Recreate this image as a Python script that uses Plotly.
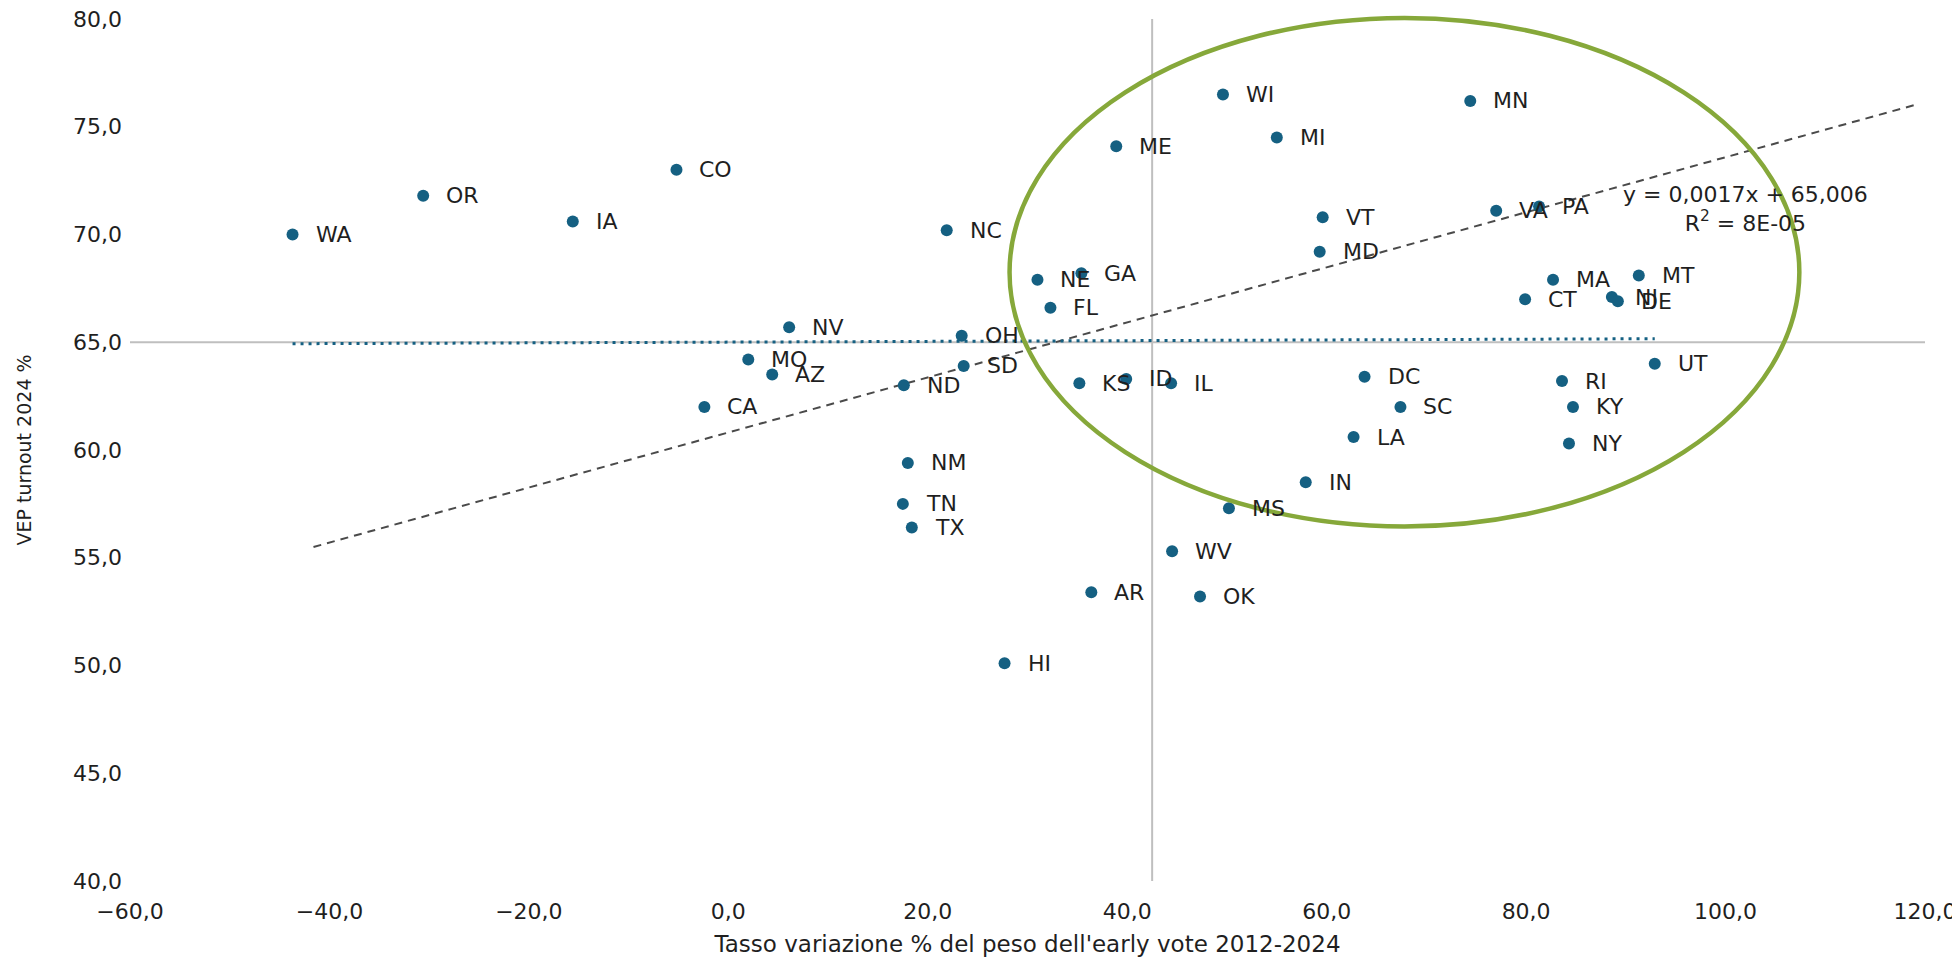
import plotly.graph_objects as go

# ---- data ----
states = ["WA", "OR", "IA", "CO", "NC", "WI", "ME", "MI", "VT", "MD",
          "NE", "GA", "FL", "NV", "OH", "MO", "AZ", "SD", "ND", "KS",
          "ID", "IL", "CA", "NM", "DC", "LA", "MN", "VA", "PA", "MA",
          "MT", "CT", "NJ", "DE", "UT", "SC", "RI", "KY", "NY", "IN",
          "MS", "TN", "TX", "WV", "AR", "OK", "HI"]
early_vote_change = [-43.7, -30.6, -15.6, -5.2, 21.9, 49.6, 38.9, 55.0, 59.6, 59.3,
                     31.0, 35.4, 32.3, 6.1, 23.4, 2.0, 4.4, 23.6, 17.6, 35.2,
                     39.9, 44.4, -2.4, 18.0, 63.8, 62.7, 74.4, 77.0, 81.3, 82.7,
                     91.3, 79.9, 88.6, 89.2, 92.9, 67.4, 83.6, 84.7, 84.3, 57.9,
                     50.2, 17.5, 18.4, 44.5, 36.4, 47.3, 27.7]
vep_turnout = [70.0, 71.8, 70.6, 73.0, 70.2, 76.5, 74.1, 74.5, 70.8, 69.2,
               67.9, 68.2, 66.6, 65.7, 65.3, 64.2, 63.5, 63.9, 63.0, 63.1,
               63.3, 63.1, 62.0, 59.4, 63.4, 60.6, 76.2, 71.1, 71.3, 67.9,
               68.1, 67.0, 67.1, 66.9, 64.0, 62.0, 63.2, 62.0, 60.3, 58.5,
               57.3, 57.5, 56.4, 55.3, 53.4, 53.2, 50.1]

# linear trendline reported on the chart
trend_slope = 0.0017
trend_intercept = 65.006
trend_label = "y = 0,0017x + 65,006<br>R<sup>2</sup> = 8E-05"

# dashed reference line drawn on the chart (endpoints)
ref_line_x = [-41.6, 118.9]
ref_line_y = [55.5, 76.0]

# axis crossing values
x_cross = 42.5
y_cross = 65.0

# highlighted region (ellipse bounds, data units)
ellipse_x = [28.2, 107.4]
ellipse_y = [56.45, 80.05]

x_range = [-60, 120]
y_range = [40, 80]
x_ticks = [-60, -40, -20, 0, 20, 40, 60, 80, 100, 120]
y_ticks = [40, 45, 50, 55, 60, 65, 70, 75, 80]

x_title = "Tasso variazione % del peso dell'early vote 2012-2024"
y_title = "VEP turnout 2024 %"

# ---- figure ----
FONT = "DejaVu Sans, Liberation Sans, Arial, sans-serif"
BLUE = "#156082"
TXT = "#1f1f1f"

fig = go.Figure()

# dashed black line
fig.add_trace(go.Scatter(
    x=ref_line_x, y=ref_line_y, mode="lines",
    line=dict(color="#4a4a4a", width=2, dash="8px,6px"),
    hoverinfo="skip", showlegend=False))

# dotted linear trendline over data extent
xmin, xmax = min(early_vote_change), max(early_vote_change)
fig.add_trace(go.Scatter(
    x=[xmin, xmax],
    y=[trend_slope * xmin + trend_intercept, trend_slope * xmax + trend_intercept],
    mode="lines",
    line=dict(color=BLUE, width=3, dash="3px,5px"),
    hoverinfo="skip", showlegend=False))

# points
fig.add_trace(go.Scatter(
    x=early_vote_change, y=vep_turnout, mode="markers",
    marker=dict(color=BLUE, size=12, line=dict(width=0)),
    text=states, hovertemplate="%{text}: %{x:.1f}, %{y:.1f}<extra></extra>",
    showlegend=False))

annotations = []
for s, xv, yv in zip(states, early_vote_change, vep_turnout):
    annotations.append(dict(
        x=xv, y=yv, xref="x", yref="y", text=s, showarrow=False,
        xanchor="left", yanchor="middle", xshift=21,
        font=dict(family=FONT, size=22, color=TXT)))

annotations.append(dict(
    x=102.0, y=71.2, xref="x", yref="y", text=trend_label, showarrow=False,
    xanchor="center", yanchor="middle", align="center",
    font=dict(family=FONT, size=22, color=TXT)))

shapes = [
    # axis crossing lines
    dict(type="line", xref="x", yref="paper", x0=x_cross, x1=x_cross, y0=0, y1=1,
         line=dict(color="#bfbfbf", width=2), layer="below"),
    dict(type="line", xref="paper", yref="y", x0=0, x1=1, y0=y_cross, y1=y_cross,
         line=dict(color="#bfbfbf", width=2), layer="below"),
    # highlight ellipse (paper coords so it is not clipped at the top)
    dict(type="circle", xref="paper", yref="paper",
         x0=(ellipse_x[0] - x_range[0]) / (x_range[1] - x_range[0]),
         x1=(ellipse_x[1] - x_range[0]) / (x_range[1] - x_range[0]),
         y0=(ellipse_y[0] - y_range[0]) / (y_range[1] - y_range[0]),
         y1=(ellipse_y[1] - y_range[0]) / (y_range[1] - y_range[0]),
         line=dict(color="#86a83a", width=4.5), layer="above"),
]

fig.update_layout(
    width=1960, height=960,
    margin=dict(l=122, r=43, t=11, b=87, autoexpand=False),
    paper_bgcolor="white", plot_bgcolor="white",
    separators=",.",
    font=dict(family=FONT, size=22, color=TXT),
    annotations=annotations, shapes=shapes,
    showlegend=False,
)
fig.update_xaxes(
    range=x_range, tickvals=x_ticks, tickformat=".1f",
    showgrid=False, zeroline=False, showline=False, ticks="",
    automargin=False,
    ticklabelstandoff=15, ticklabeloverflow="allow",
    tickfont=dict(family=FONT, size=22, color=TXT),
    title=dict(text=x_title, standoff=12, font=dict(family=FONT, size=23, color=TXT)),
)
fig.update_yaxes(
    range=y_range, tickvals=y_ticks, tickformat=".1f",
    showgrid=False, zeroline=False, showline=False, ticks="",
    automargin=False,
    ticklabelstandoff=7, ticklabeloverflow="allow",
    tickfont=dict(family=FONT, size=22, color=TXT),
    title=dict(text=y_title, standoff=36, font=dict(family=FONT, size=19, color=TXT)),
)

fig.write_html("out.html")
